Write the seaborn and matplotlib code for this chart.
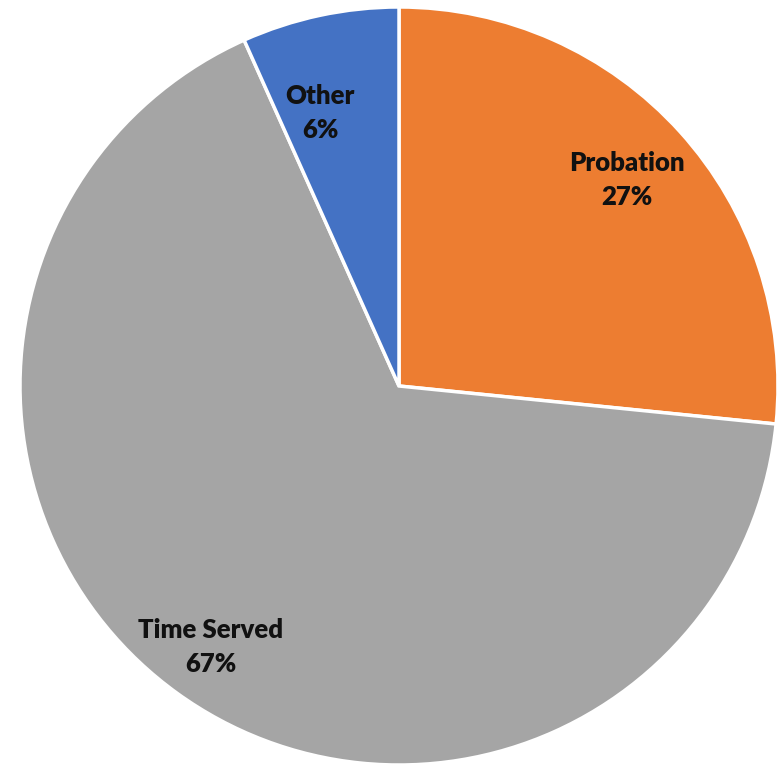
import matplotlib
matplotlib.use("Agg")
import matplotlib.pyplot as plt
import seaborn as sns
import numpy as np

# Data
categories = ["Probation", "Time Served", "Other"]
shares = [26.6, 66.7, 6.7]
pct_labels = ["27%", "67%", "6%"]
colors = ["#ED7D31", "#A5A5A5", "#4472C4"]
label_radius = [0.81, 0.85, 0.75]
label_shift = [0, 0, 4]   # degrees, nudges label off the slice mid-angle

sns.set_theme(style="white")
plt.rcParams['font.family'] = ['Lato', 'DejaVu Sans']

fig = plt.figure(figsize=(7.8, 7.64), dpi=100)
# pie centred at about (399, 386) px, radius about 379 px
r_px = 379
ax = fig.add_axes([(399 - r_px) / 780, (764 - 386 - r_px) / 764, 2 * r_px / 780, 2 * r_px / 764])

wedges, _ = ax.pie(shares, colors=colors, startangle=90, counterclock=False,
                   wedgeprops=dict(edgecolor="white", linewidth=2.5))
ax.set_xlim(-1, 1)
ax.set_ylim(-1, 1)
ax.set_aspect("equal")
ax.axis("off")

# Category + percentage labels inside each slice
for w, cat, pct, rad, sh in zip(wedges, categories, pct_labels, label_radius, label_shift):
    mid = np.deg2rad((w.theta1 + w.theta2) / 2 + sh)
    ax.text(rad * np.cos(mid), rad * np.sin(mid), f"{cat}\n{pct}",
            ha="center", va="center", fontsize=18.5, fontweight="heavy",
            color="#111111", linespacing=1.5)

plt.savefig("out.png", dpi=100)
